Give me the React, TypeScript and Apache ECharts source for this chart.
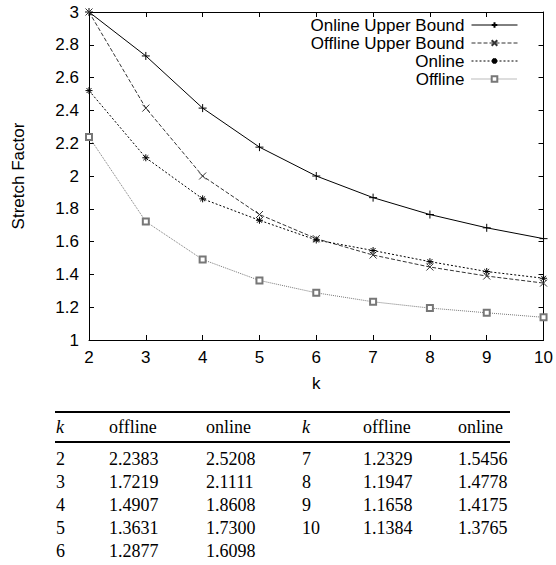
import React, { useEffect, useRef } from "react";
import * as echarts from "echarts";

const kValues = [2, 3, 4, 5, 6, 7, 8, 9, 10];
const onlineUpper = [3.0, 2.732, 2.414, 2.176, 2.0, 1.868, 1.765, 1.684, 1.618];
const offlineUpper = [3.0, 2.414, 2.0, 1.765, 1.618, 1.518, 1.445, 1.39, 1.347];
const onlineVals = ["2.5208", "2.1111", "1.8608", "1.7300", "1.6098", "1.5456", "1.4778", "1.4175", "1.3765"];
const offlineVals = ["2.2383", "1.7219", "1.4907", "1.3631", "1.2877", "1.2329", "1.1947", "1.1658", "1.1384"];
const seriesNames = ["Online Upper Bound", "Offline Upper Bound", "Online", "Offline"];
const tableHeaders = ["k", "offline", "online", "k", "offline", "online"];

const PLUS = "path://M0,5L10,5M5,0L5,10";
const CROSS = "path://M0,0L10,10M0,10L10,0";
const STAR = "path://M0,5L10,5M5,0L5,10M1.5,1.5L8.5,8.5M1.5,8.5L8.5,1.5";

export default function App() {
  const ref = useRef<HTMLDivElement>(null);
  useEffect(() => {
    if (!ref.current) return;
    const chart = echarts.init(ref.current, undefined, { renderer: "svg" });
    const pair = (arr: (number | string)[]) => kValues.map((k, i) => [k, Number(arr[i])]);

    const font = "Liberation Sans";
    const fs = 17;
    const axisCommon = {
      type: "value" as const,
      axisLine: { show: true, lineStyle: { color: "#000", width: 1 } },
      axisTick: { show: true, inside: true, length: 5, lineStyle: { color: "#000" } },
      splitLine: { show: false },
    };

    // table
    const colX = [56, 109, 206, 302, 363, 458];
    const headerY = 427;
    const rowY0 = 459;
    const rowH = 23;
    const graphic: any[] = [];
    graphic.push({ type: "rect", shape: { x: 55, y: 411, width: 455, height: 2 }, style: { fill: "#000" } });
    graphic.push({ type: "rect", shape: { x: 55, y: 441, width: 455, height: 2 }, style: { fill: "#000" } });
    const tstyle = (text: string, italic = false) => ({
      text,
      fill: "#000",
      fontSize: 18,
      fontFamily: "Liberation Serif",
      fontStyle: italic ? "italic" : "normal",
      align: "left",
      verticalAlign: "middle",
    });
    tableHeaders.forEach((h, i) => {
      graphic.push({ type: "text", x: colX[i], y: headerY, style: tstyle(h, h === "k") });
    });
    kValues.forEach((k, i) => {
      const half = i < 5 ? 0 : 1;
      const row = i < 5 ? i : i - 5;
      const y = rowY0 + row * rowH;
      graphic.push({ type: "text", x: colX[half * 3], y, style: tstyle(String(k)) });
      graphic.push({ type: "text", x: colX[half * 3 + 1], y, style: tstyle(offlineVals[i]) });
      graphic.push({ type: "text", x: colX[half * 3 + 2], y, style: tstyle(onlineVals[i]) });
    });

    chart.setOption({
      animation: false,
      backgroundColor: "#fff",
      textStyle: { fontFamily: font },
      grid: { left: 89, right: 12, top: 12, bottom: 225, containLabel: false },
      legend: {
        orient: "vertical",
        right: 33,
        top: 11,
        align: "right",
        itemWidth: 46,
        itemHeight: 7,
        itemGap: 0,
        lineStyle: { width: 1 },
        textStyle: { fontSize: fs, fontFamily: font, color: "#000", padding: [0, 2, 0, 0], lineHeight: 18 },
        data: seriesNames,
      },
      xAxis: [
        {
          ...axisCommon,
          position: "bottom",
          min: 2,
          max: 10,
          interval: 1,
          name: "k",
          nameLocation: "middle",
          nameGap: 35,
          nameTextStyle: { fontSize: fs, color: "#000", fontFamily: font },
          axisLabel: { fontSize: fs, color: "#000", margin: 9, fontFamily: font },
        },
        {
          ...axisCommon,
          position: "top",
          min: 2,
          max: 10,
          interval: 1,
          axisLabel: { show: false },
        },
      ],
      yAxis: [
        {
          ...axisCommon,
          position: "left",
          min: 1,
          max: 3,
          interval: 0.2,
          name: "Stretch Factor",
          nameLocation: "middle",
          nameGap: 62,
          nameTextStyle: { fontSize: fs, color: "#000", fontFamily: font },
          axisLabel: { fontSize: fs, color: "#000", margin: 10, fontFamily: font },
        },
        {
          ...axisCommon,
          position: "right",
          min: 1,
          max: 3,
          interval: 0.2,
          axisLabel: { show: false },
        },
      ],
      series: [
        {
          name: seriesNames[0],
          type: "line",
          data: pair(onlineUpper),
          symbol: PLUS,
          symbolSize: 8,
          itemStyle: { color: "#000", borderColor: "#000", borderWidth: 1 },
          lineStyle: { color: "#000", width: 1, type: "solid" },
        },
        {
          name: seriesNames[1],
          type: "line",
          data: pair(offlineUpper),
          symbol: CROSS,
          symbolSize: 7,
          itemStyle: { color: "#333", borderColor: "#333", borderWidth: 1 },
          lineStyle: { color: "#333", width: 1, type: [4, 2] },
        },
        {
          name: seriesNames[2],
          type: "line",
          data: pair(onlineVals),
          symbol: STAR,
          symbolSize: 7,
          itemStyle: { color: "#000", borderColor: "#000", borderWidth: 1 },
          lineStyle: { color: "#000", width: 1, type: [2, 2] },
        },
        {
          name: seriesNames[3],
          type: "line",
          data: pair(offlineVals),
          symbol: "emptyRect",
          symbolSize: 6,
          itemStyle: { color: "#777", borderWidth: 1 },
          lineStyle: { color: "#777", width: 1, type: [1, 1] },
        },
      ],
      graphic,
    });
    return () => chart.dispose();
  }, []);
  return (
    <div
      ref={ref}
      style={{ position: "absolute", left: 0, top: 0, width: 556, height: 565 }}
    />
  );
}
